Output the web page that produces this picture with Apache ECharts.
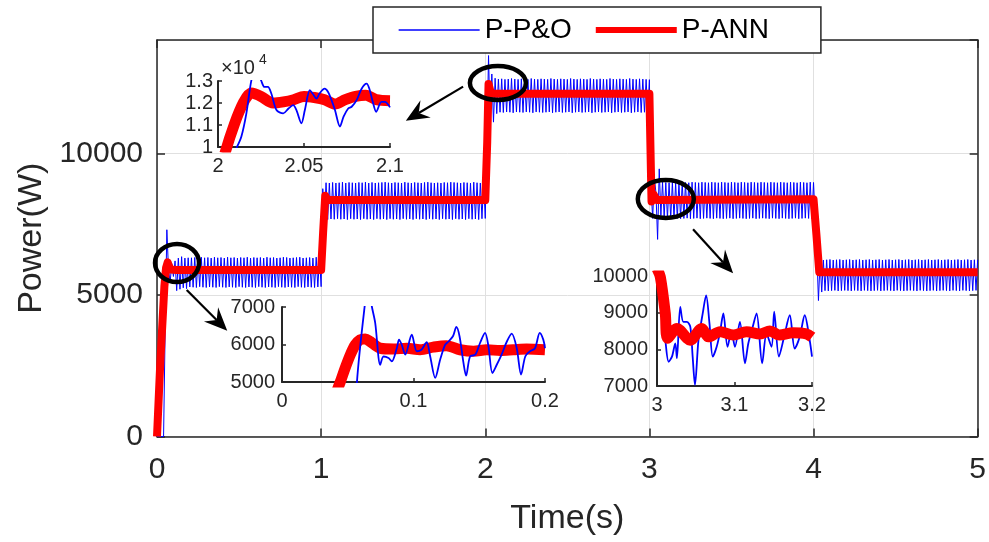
<!DOCTYPE html>
<html>
<head>
<meta charset="utf-8">
<title>Power(W)</title>
<script src="https://cdn.jsdelivr.net/npm/echarts@6/dist/echarts.min.js"></script>
<style>
    html, body { margin: 0; padding: 0; background: #fff; }
    #chart { width: 989px; height: 542px; }
</style>
</head>
<body>
<div id="chart"></div>
<script>
    // ---- data ----
    // P&O power, one sample every 0.01 s from 0 to 5 s (each row = 0.1 s)
    var pandoStep = 0.01;
    var pandoPower = [
        0, 0, 0, 0, 0, 3900, 7300, 5900, 5450, 6100,
        5650, 6200, 5150, 6300, 5200, 6350, 5250, 6300, 5220, 6310,
        5280, 6310, 5270, 6320, 5260, 6300, 5290, 6330, 5270, 6310,
        5260, 6320, 5280, 6300, 5270, 6330, 5260, 6310, 5290, 6320,
        5270, 6300, 5260, 6330, 5280, 6310, 5270, 6320, 5260, 6300,
        5290, 6320, 5270, 6310, 5260, 6330, 5280, 6300, 5270, 6320,
        5260, 6310, 5290, 6320, 5270, 6300, 5260, 6330, 5280, 6310,
        5270, 6320, 5260, 6300, 5290, 6310, 5270, 6330, 5260, 6320,
        5280, 6300, 5270, 6310, 5260, 6320, 5290, 6330, 5270, 6300,
        5260, 6310, 5280, 6320, 5270, 6300, 5260, 6330, 5280, 6310,
        5290, 8750, 7750, 8960, 7660, 8950, 7680, 8970, 7670, 8950,
        7690, 8960, 7670, 8980, 7680, 8950, 7660, 8970, 7690, 8960,
        7670, 8950, 7680, 8970, 7660, 8960, 7690, 8980, 7670, 8950,
        7680, 8970, 7660, 8950, 7690, 8960, 7670, 8970, 7680, 8980,
        7660, 8960, 7690, 8950, 7670, 8970, 7680, 8960, 7660, 8950,
        7690, 8980, 7670, 8960, 7680, 8950, 7660, 8970, 7690, 8960,
        7670, 8950, 7680, 8970, 7660, 8980, 7690, 8960, 7670, 8950,
        7680, 8960, 7660, 8950, 7690, 8970, 7670, 8960, 7680, 8980,
        7660, 8970, 7690, 8960, 7670, 8950, 7680, 8970, 7660, 8960,
        7690, 8950, 7670, 8980, 7680, 8960, 7660, 8950, 7690, 8970,
        7700, 10400, 13450, 11000, 12800, 11100, 12650, 11400, 12620, 11450,
        12630, 11440, 12610, 11460, 12620, 11450, 12640, 11430, 12620, 11460,
        12610, 11450, 12630, 11440, 12620, 11460, 12610, 11450, 12640, 11430,
        12620, 11460, 12610, 11450, 12630, 11440, 12620, 11450, 12610, 11460,
        12640, 11430, 12620, 11450, 12610, 11460, 12630, 11440, 12620, 11450,
        12610, 11460, 12640, 11430, 12620, 11450, 12610, 11460, 12630, 11440,
        12620, 11450, 12610, 11460, 12640, 11430, 12620, 11450, 12610, 11460,
        12630, 11440, 12620, 11450, 12610, 11460, 12640, 11430, 12620, 11450,
        12610, 11460, 12630, 11440, 12620, 11450, 12610, 11460, 12640, 11430,
        12620, 11450, 12610, 11460, 12630, 11440, 12620, 11450, 12610, 11460,
        12600, 8800, 7700, 9150, 8600, 6960, 9450, 7800, 8980, 7750,
        8970, 7700, 8960, 7690, 8980, 7710, 8970, 7700, 8960, 7690,
        8980, 7700, 8970, 7710, 8960, 7690, 8980, 7700, 8970, 7710,
        8960, 7690, 8980, 7700, 8970, 7710, 8960, 7700, 8980, 7690,
        8970, 7710, 8960, 7700, 8980, 7690, 8970, 7700, 8960, 7710,
        8980, 7690, 8970, 7700, 8960, 7710, 8980, 7700, 8970, 7690,
        8960, 7700, 8980, 7710, 8970, 7690, 8960, 7700, 8980, 7710,
        8970, 7700, 8960, 7690, 8980, 7710, 8970, 7700, 8960, 7690,
        8980, 7710, 8970, 7700, 8960, 7690, 8980, 7700, 8970, 7710,
        8960, 7690, 8980, 7700, 8970, 7710, 8960, 7700, 8980, 7690,
        8970, 7700, 6550, 4800, 6200, 5100, 6230, 5150, 6240, 5140,
        6250, 5150, 6230, 5160, 6240, 5140, 6250, 5150, 6230, 5160,
        6240, 5150, 6250, 5140, 6230, 5160, 6240, 5150, 6250, 5140,
        6230, 5160, 6240, 5150, 6250, 5140, 6230, 5150, 6240, 5160,
        6250, 5140, 6230, 5150, 6240, 5160, 6250, 5150, 6230, 5140,
        6240, 5160, 6250, 5150, 6230, 5140, 6240, 5150, 6250, 5160,
        6230, 5150, 6240, 5140, 6250, 5160, 6230, 5150, 6240, 5140,
        6250, 5150, 6230, 5160, 6240, 5140, 6250, 5150, 6230, 5160,
        6240, 5150, 6250, 5140, 6230, 5160, 6240, 5150, 6250, 5140,
        6230, 5160, 6240, 5150, 6250, 5140, 6230, 5150, 6240, 5160,
        6240
    ];

    // ANN power (main plot)
    var annTime  = [0, 0.02, 0.045, 0.055, 0.065, 0.08, 0.12, 1.0, 1.012, 1.025, 1.04, 2.0, 2.012, 2.02, 2.035, 3.0, 3.013, 3.025, 3.045, 4.0, 4.018, 4.035, 5.0];
    var annPower = [0, 2600, 5300, 5950, 6150, 5900, 5880, 5880, 7200, 8500, 8350, 8350, 10400, 12450, 12100, 12100, 8300, 8550, 8350, 8380, 7100, 5800, 5800];

    // zoom 1 : 2.0 - 2.1 s
    var zoomPandoTime1  = [2.0107, 2.0136, 2.0165, 2.0194, 2.022, 2.0252, 2.027, 2.029, 2.031, 2.034, 2.0379, 2.041, 2.0437, 2.0456, 2.0485, 2.0505, 2.0534, 2.055, 2.0573, 2.059, 2.062, 2.064, 2.066, 2.068, 2.0709, 2.073, 2.0757, 2.0777, 2.0806, 2.0835, 2.0864, 2.088, 2.09, 2.092, 2.095, 2.097, 2.1];
    var zoomPandoPower1 = [9950, 10480, 11530, 13030, 13600, 13000, 12730, 12730, 12430, 11680, 11530, 11750, 11900, 11680, 11080, 11680, 12580, 12430, 12200, 12430, 12650, 12500, 12130, 11680, 10930, 11380, 11750, 11830, 12130, 12650, 12880, 12650, 12050, 11600, 12050, 12050, 11800];
    var zoomAnnTime1  = [2.004, 2.0195, 2.025, 2.032, 2.038, 2.044, 2.050, 2.056, 2.062, 2.068, 2.074, 2.080, 2.086, 2.092, 2.1];
    var zoomAnnPower1 = [9700, 12450, 12300, 12000, 12050, 12150, 12300, 12250, 12150, 11950, 12150, 12300, 12350, 12150, 12100];

    // zoom 2 : 0 - 0.2 s
    var zoomPandoTime2  = [0.055, 0.057, 0.0628, 0.0655, 0.0684, 0.0709, 0.0747, 0.0772, 0.081, 0.0835, 0.0873, 0.089, 0.0911, 0.0937, 0.0987, 0.1025, 0.106, 0.11, 0.1127, 0.1165, 0.1203, 0.124, 0.1266, 0.130, 0.1326, 0.135, 0.138, 0.14, 0.143, 0.147, 0.1506, 0.1544, 0.157, 0.16, 0.1633, 0.167, 0.171, 0.1747, 0.1785, 0.1818, 0.185, 0.1886, 0.1924, 0.196, 0.1987, 0.2];
    var zoomPandoPower2 = [3000, 5000, 7000, 7600, 7000, 6570, 5460, 5680, 5640, 5550, 5900, 6130, 5990, 5730, 6260, 5820, 5860, 6060, 5680, 5110, 5600, 5990, 6080, 6220, 6470, 6220, 5510, 5170, 5680, 5730, 6040, 6310, 5950, 5240, 5460, 5730, 6080, 6290, 5900, 5200, 5680, 5820, 5900, 6310, 6130, 5900];
    var zoomAnnTime2  = [0.040, 0.0443, 0.048, 0.052, 0.0557, 0.0595, 0.0633, 0.067, 0.0747, 0.085, 0.095, 0.105, 0.115, 0.125, 0.1354, 0.1456, 0.1557, 0.166, 0.176, 0.186, 0.2];
    var zoomAnnPower2 = [4600, 5000, 5370, 5730, 5990, 6130, 6150, 6080, 5900, 5880, 5900, 5860, 5930, 5970, 5860, 5820, 5860, 5840, 5860, 5880, 5860];

    // zoom 3 : 3.0 - 3.2 s
    var zoomPandoTime3  = [3.009, 3.0107, 3.015, 3.0193, 3.0236, 3.0257, 3.03, 3.034, 3.0385, 3.043, 3.046, 3.049, 3.0535, 3.059, 3.0634, 3.0677, 3.072, 3.077, 3.0814, 3.0856, 3.091, 3.096, 3.1006, 3.107, 3.1135, 3.1178, 3.123, 3.1285, 3.1357, 3.1413, 3.1478, 3.1512, 3.1573, 3.1636, 3.1713, 3.1777, 3.1842, 3.1906, 3.197, 3.2];
    var zoomPandoPower3 = [8600, 8260, 7660, 7800, 8160, 7760, 9160, 8750, 8750, 8610, 7800, 7030, 8250, 8980, 9470, 8710, 7800, 8070, 8480, 8980, 8070, 8480, 8070, 8750, 7620, 8160, 8570, 8980, 7620, 8430, 8070, 9030, 7800, 8300, 8930, 8020, 8340, 8930, 8250, 7800];
    var zoomAnnTime3  = [3.0, 3.0043, 3.0107, 3.0137, 3.0257, 3.0428, 3.0578, 3.0664, 3.0814, 3.0985, 3.1156, 3.1328, 3.1456, 3.158, 3.1756, 3.1927, 3.2];
    var zoomAnnPower3 = [10200, 9970, 8980, 8300, 8570, 8250, 8570, 8340, 8480, 8390, 8480, 8420, 8500, 8390, 8450, 8420, 8330];

    // annotation marks in main-plot coordinates [time, power]
    var circleCenters = [[0.122, 6126], [2.077, 12482], [3.100, 8386]];
    var circleRadii   = [[22, 19], [28, 17], [28, 19]];
    var arrowFrom = [[0.181, 5173], [1.865, 12352], [3.266, 7316]];
    var arrowTo   = [[0.428, 3736], [1.516, 11151], [3.510, 5763]];

    // ---- helpers ----
    function pairs(xs, ys) {
        var out = [];
        for (var i = 0; i < xs.length; i++) out.push([xs[i], ys[i]]);
        return out;
    }
    var pandoData = [];
    for (var i = 0; i < pandoPower.length; i++) {
        pandoData.push([+(i * pandoStep).toFixed(2), pandoPower[i]]);
    }

    var FONT = "'Liberation Sans', Arial, sans-serif";
    var AX = '#262626';
    var BLUE = '#0000ff';
    var RED = '#ff0000';
    // plain numbers, no thousands separator
    function plain(v) { return String(+v.toFixed(4)); }

    function insetX(grid, min, max, interval) {
        return {
            type: 'value', gridIndex: grid, min: min, max: max, interval: interval,
            axisLine: { onZero: false, lineStyle: { color: AX, width: 2 } },
            axisTick: { inside: true, length: 4, lineStyle: { color: AX, width: 1.5 } },
            axisLabel: { color: AX, fontSize: 20, fontFamily: FONT, margin: 9, formatter: plain },
            splitLine: { show: false }
        };
    }
    function insetY(grid, min, max, interval, fmt, margin) {
        return {
            type: 'value', gridIndex: grid, min: min, max: max, interval: interval,
            axisLine: { show: true, onZero: false, lineStyle: { color: AX, width: 2 } },
            axisTick: { show: true, inside: true, length: 4, lineStyle: { color: AX, width: 1.5 } },
            axisLabel: { color: AX, fontSize: 20, fontFamily: FONT, margin: margin, formatter: fmt },
            splitLine: { show: false }
        };
    }

    var chartDom = document.getElementById('chart');
    var myChart = echarts.init(chartDom, null, { renderer: 'canvas' });

    var option = {
        animation: false,
        backgroundColor: '#fff',
        textStyle: { fontFamily: FONT },
        grid: [
            { left: 157, top: 40, width: 821, height: 396.5 },
            { left: 218, top: 81, width: 172, height: 66 },
            { left: 282, top: 307, width: 263, height: 75 },
            { left: 657, top: 276, width: 155, height: 110 }
        ],
        legend: {
            show: true,
            orient: 'horizontal',
            left: 373, top: 7,
            padding: [9, 52, 9, 25],
            itemGap: 21, itemWidth: 81, itemHeight: 28,
            backgroundColor: '#fff',
            borderColor: AX, borderWidth: 1.5,
            textStyle: { color: '#000', fontSize: 28, fontFamily: FONT },
            data: [
                { name: 'P-P&O', lineStyle: { width: 1.3, color: BLUE }, itemStyle: { opacity: 0 } },
                { name: 'P-ANN', lineStyle: { width: 6, color: RED }, itemStyle: { opacity: 0 } }
            ]
        },
        xAxis: [
            {
                type: 'value', gridIndex: 0, min: 0, max: 5, interval: 1,
                name: 'Time(s)', nameLocation: 'middle', nameGap: 65,
                nameTextStyle: { color: AX, fontSize: 34, fontFamily: FONT },
                axisLine: { onZero: false, lineStyle: { color: AX, width: 1.5 } },
                axisTick: { inside: true, length: 8, lineStyle: { color: AX, width: 1.5 } },
                axisLabel: { color: AX, fontSize: 30, fontFamily: FONT, margin: 18, formatter: plain },
                splitLine: { show: true, lineStyle: { color: '#e0e0e0', width: 1 } }
            },
            {
                type: 'value', gridIndex: 0, min: 0, max: 5, interval: 1, position: 'top',
                axisLine: { onZero: false, lineStyle: { color: AX, width: 1.5 } },
                axisTick: { inside: true, length: 8, lineStyle: { color: AX, width: 1.5 } },
                axisLabel: { show: false },
                splitLine: { show: false }
            },
            insetX(1, 2, 2.1, 0.05),
            insetX(2, 0, 0.2, 0.1),
            insetX(3, 3, 3.2, 0.1)
        ],
        yAxis: [
            {
                type: 'value', gridIndex: 0, min: 0, max: 14000, interval: 5000,
                name: 'Power(W)', nameLocation: 'middle', nameGap: 107,
                nameTextStyle: { color: AX, fontSize: 34, fontFamily: FONT },
                axisLine: { show: true, onZero: false, lineStyle: { color: AX, width: 1.5 } },
                axisTick: { show: true, inside: true, length: 8, lineStyle: { color: AX, width: 1.5 } },
                axisLabel: { color: AX, fontSize: 30, fontFamily: FONT, margin: 14, showMaxLabel: false, formatter: plain },
                splitLine: { show: true, lineStyle: { color: '#e0e0e0', width: 1 } }
            },
            {
                type: 'value', gridIndex: 0, min: 0, max: 14000, interval: 5000, position: 'right',
                axisLine: { show: true, onZero: false, lineStyle: { color: AX, width: 1.5 } },
                axisTick: { show: true, inside: true, length: 8, lineStyle: { color: AX, width: 1.5 } },
                axisLabel: { show: false },
                splitLine: { show: false }
            },
            insetY(1, 10000, 13000, 1000, function (v) { return String(+(v / 10000).toFixed(1)); }, 5),
            insetY(2, 5000, 7000, 1000, plain, 7),
            insetY(3, 7000, 10000, 1000, plain, 9)
        ],
        series: [
            {
                name: 'P-P&O', type: 'line', xAxisIndex: 0, yAxisIndex: 0, symbol: 'none',
                lineStyle: { color: BLUE, width: 1 }, itemStyle: { color: BLUE },
                data: pandoData, z: 2
            },
            {
                name: 'P-ANN', type: 'line', xAxisIndex: 0, yAxisIndex: 0, symbol: 'none',
                lineStyle: { color: RED, width: 8, join: 'round' }, itemStyle: { color: RED },
                data: pairs(annTime, annPower), z: 3
            },
            {
                name: 'P-ANN', type: 'line', xAxisIndex: 2, yAxisIndex: 2, symbol: 'none', smooth: 0.3,
                lineStyle: { color: RED, width: 11 }, itemStyle: { color: RED },
                data: pairs(zoomAnnTime1, zoomAnnPower1), z: 4
            },
            {
                name: 'P-P&O', type: 'line', xAxisIndex: 2, yAxisIndex: 2, symbol: 'none', smooth: 0.3,
                lineStyle: { color: BLUE, width: 1.8 }, itemStyle: { color: BLUE },
                data: pairs(zoomPandoTime1, zoomPandoPower1), z: 5
            },
            {
                name: 'P-ANN', type: 'line', xAxisIndex: 3, yAxisIndex: 3, symbol: 'none', smooth: 0.3,
                lineStyle: { color: RED, width: 11 }, itemStyle: { color: RED },
                data: pairs(zoomAnnTime2, zoomAnnPower2), z: 4
            },
            {
                name: 'P-P&O', type: 'line', xAxisIndex: 3, yAxisIndex: 3, symbol: 'none', smooth: 0.3,
                lineStyle: { color: BLUE, width: 1.8 }, itemStyle: { color: BLUE },
                data: pairs(zoomPandoTime2, zoomPandoPower2), z: 5
            },
            {
                name: 'P-P&O', type: 'line', xAxisIndex: 4, yAxisIndex: 4, symbol: 'none', smooth: 0.3,
                lineStyle: { color: BLUE, width: 1.8 }, itemStyle: { color: BLUE },
                data: pairs(zoomPandoTime3, zoomPandoPower3), z: 4
            },
            {
                name: 'P-ANN', type: 'line', xAxisIndex: 4, yAxisIndex: 4, symbol: 'none', smooth: 0.3,
                lineStyle: { color: RED, width: 11 }, itemStyle: { color: RED },
                data: pairs(zoomAnnTime3, zoomAnnPower3), z: 5
            }
        ]
    };
    myChart.setOption(option);

    // annotations: circles, arrows and the x10^4 exponent, placed from data coordinates
    function px(p) { return myChart.convertToPixel({ xAxisIndex: 0, yAxisIndex: 0 }, p); }
    var elements = [];
    for (var k = 0; k < circleCenters.length; k++) {
        var c = px(circleCenters[k]);
        elements.push({
            type: 'ellipse', z: 100,
            shape: { cx: c[0], cy: c[1], rx: circleRadii[k][0], ry: circleRadii[k][1] },
            style: { fill: null, stroke: '#000', lineWidth: 4.5 }
        });
    }
    for (var a = 0; a < arrowFrom.length; a++) {
        var s = px(arrowFrom[a]), t = px(arrowTo[a]);
        var dx = t[0] - s[0], dy = t[1] - s[1];
        var len = Math.sqrt(dx * dx + dy * dy);
        var ux = dx / len, uy = dy / len, nx = -uy, ny = ux;
        var L = 23, W = 10, notch = 15;
        elements.push({
            type: 'line', z: 100,
            shape: { x1: s[0], y1: s[1], x2: t[0] - ux * notch, y2: t[1] - uy * notch },
            style: { stroke: '#000', lineWidth: 2.2 }
        });
        elements.push({
            type: 'polygon', z: 100,
            shape: { points: [
                [t[0], t[1]],
                [t[0] - ux * L + nx * W, t[1] - uy * L + ny * W],
                [t[0] - ux * notch, t[1] - uy * notch],
                [t[0] - ux * L - nx * W, t[1] - uy * L - ny * W]
            ] },
            style: { fill: '#000' }
        });
    }
    var corner = myChart.convertToPixel({ xAxisIndex: 2, yAxisIndex: 2 }, [2, 13000]);
    elements.push({
        type: 'text', z: 100, x: corner[0] + 3, y: corner[1] - 13,
        style: { text: '×10', fill: AX, font: '20px ' + FONT, textVerticalAlign: 'middle' }
    });
    elements.push({
        type: 'text', z: 100, x: corner[0] + 41, y: corner[1] - 21,
        style: { text: '4', fill: AX, font: '14px ' + FONT, textVerticalAlign: 'middle' }
    });
    myChart.setOption({ graphic: { elements: elements } });

    window.onresize = function () { myChart.resize(); };
</script>
</body>
</html>
